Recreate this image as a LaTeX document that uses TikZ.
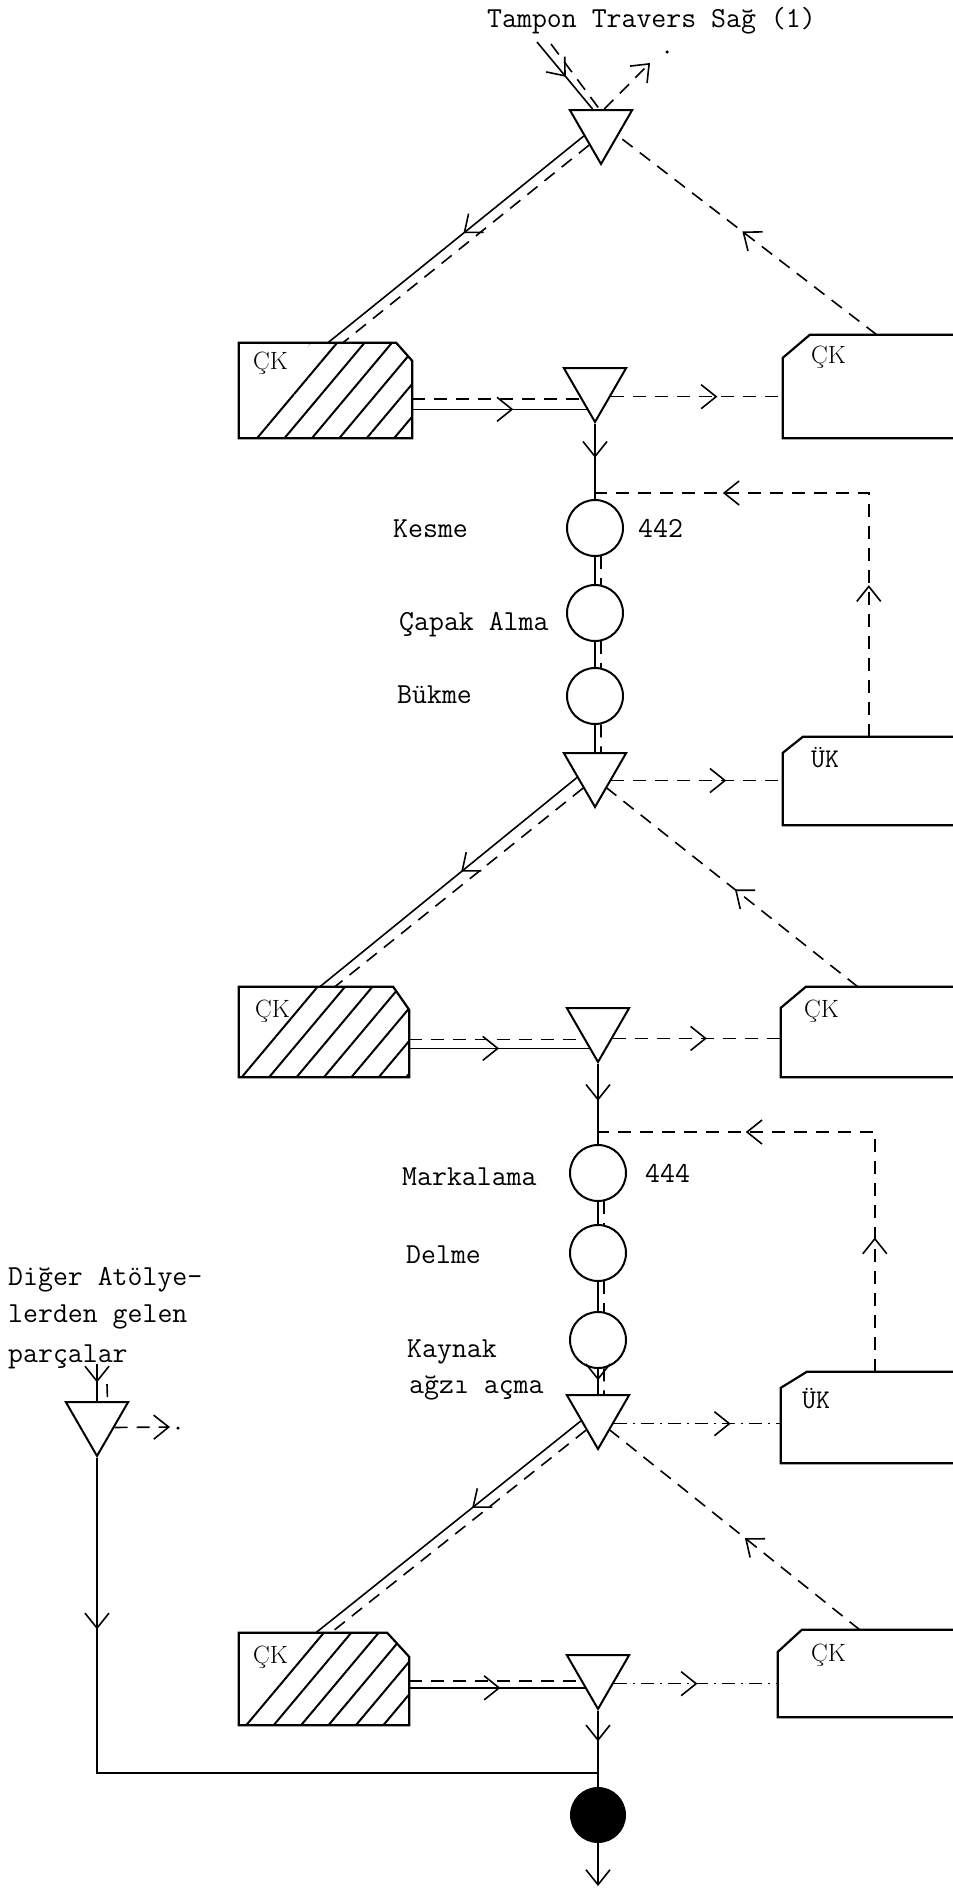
\documentclass[tikz,border=0pt]{standalone}
\usepackage{fontspec}
\usepackage{tikz}
\usetikzlibrary{positioning, shapes.geometric, arrows.meta, decorations.markings, patterns.meta}

\newcommand{\twfont}{\ttfamily\fontsize{29}{38}\selectfont}
\newcommand{\ckfont}{\rmfamily\fontsize{25}{30}\selectfont}
\newcommand{\ukfont}{\ttfamily\fontsize{27}{32}\selectfont}

\tikzset{
  tri/.style={draw, regular polygon, regular polygon sides=3, shape border rotate=180,
    minimum size=72pt, inner sep=0pt, line width=2pt},
  op/.style={draw, circle, minimum size=56pt, inner sep=0pt, line width=2pt},
  stock/.style={circle, fill=black, minimum size=56pt, inner sep=0pt},
  box/.style={inner sep=0pt},
  boxline/.style={line width=2.2pt, line join=miter},
  hatch/.style={pattern={Lines[angle=50, distance=21pt, line width=2pt]}},
  lbl/.style={font=\twfont, inner sep=0pt, anchor=base west},
  cklbl/.style={font=\ckfont, inner sep=0pt, anchor=base west},
  uklbl/.style={font=\ukfont, inner sep=0pt, anchor=base west},
  dot/.style={circle, fill=black, minimum size=3.5pt, inner sep=0pt},
  matl/.style={line width=1.6pt},
  info/.style={line width=1.6pt, dash pattern=on 13pt off 9pt},
  infodd/.style={line width=1.6pt, dash pattern=on 13pt off 6pt on 2pt off 6pt},
  midarrow/.style={postaction={decorate, decoration={markings,
    mark=at position #1 with {\arrow{>}}}}},
  twoarrows/.style 2 args={postaction={decorate, decoration={markings,
    mark=at position #1 with {\arrow{>}}, mark=at position #2 with {\arrow{>}}}}}
}

\begin{document}
\begin{tikzpicture}[x=1pt, y=-1pt, >={Straight Barb[length=15pt, width=24pt]}]
  \useasboundingbox (0,0) rectangle (953,1888);

  % incoming parts
  \node[lbl] (title) at (487,27) {Tampon Travers Sağ (1)};
  \node[tri] (t1) at (601,128) {};
  \coordinate (in1) at (537,42);
  \coordinate (in2) at (551,44);
  \coordinate (out1) at (650,63);
  \node[dot] (dot1) at (667,52) {};
  \draw[matl, midarrow=0.52] (in1) -- (t1.114);
  \draw[info] (in2) -- (t1.95);
  \draw[info, ->] (t1.80) -- (out1);

  % first buffer stocks
  \node[box, minimum width=173pt, minimum height=95pt] (ck1) at (325.5,390.5) {};
  \path[hatch] (ck1.south west) -- ([xshift=72pt]ck1.north west) -- ([xshift=-16pt]ck1.north east)
    -- ([yshift=-18pt]ck1.north east) -- (ck1.south east) -- cycle;
  \draw[boxline] (ck1.south west) -- (ck1.north west) -- ([xshift=-16pt]ck1.north east)
    -- ([yshift=-18pt]ck1.north east) -- (ck1.south east) -- cycle;
  \node[cklbl] (ck1l) at (253,369) {ÇK};
  \node[box, minimum width=170pt, minimum height=103pt] (ck2) at (868,386.5) {};
  \draw[boxline] (ck2.north east) -- ([xshift=27pt]ck2.north west) -- ([yshift=-23pt]ck2.north west)
    -- (ck2.south west) -- (ck2.south east);
  \node[cklbl] (ck2l) at (811,363) {ÇK};
  \node[tri] (t2) at (595,386) {};
  \draw[matl, midarrow=0.47] (t1.205) -- ([xshift=89pt]ck1.north west);
  \draw[info] (t1.235) -- ([xshift=104pt]ck1.north west);
  \draw[info, midarrow=0.52] ([xshift=94pt]ck2.north west) -- (t1.-25);
  \draw[matl, midarrow=0.58] (t2.250 -| ck1.east) -- (t2.250);
  \draw[info] (t2.221 -| ck1.east) -- (t2.221);
  \draw[info, midarrow=0.62] (t2.326) -- (t2.326 -| ck2.west);

  % operations 442
  \node[op] (c1) at (595,528) {};
  \node[op] (c2) at (595,613) {};
  \node[op] (c3) at (595,696) {};
  \node[lbl] (kesme) at (393,537) {Kesme};
  \node[lbl] (capak) at (399,630) {Çapak Alma};
  \node[lbl] (bukme) at (397,703) {Bükme};
  \node[font=\twfont, inner sep=0pt, right=14pt of c1] (n442) {442};
  \coordinate (j1) at (595,493);
  \draw[matl, midarrow=0.45] (t2.south) -- (c1.north);
  \draw[matl] (c1.south) -- (c2.north);
  \draw[info] (c1.-78) -- (c2.78);
  \draw[matl] (c2.south) -- (c3.north);
  \draw[info] (c2.-78) -- (c3.78);

  \node[tri] (t3) at (595,771) {};
  \draw[matl] (c3.south) -- (t3.north);
  \draw[info] (c3.-78) -- ([xshift=6pt]t3.north);
  \node[box, minimum width=170pt, minimum height=88pt] (uk1) at (868,781) {};
  \draw[boxline] (uk1.north east) -- ([xshift=20pt]uk1.north west) -- ([yshift=-16pt]uk1.north west)
    -- (uk1.south west) -- (uk1.south east);
  \node[uklbl] (uk1l) at (811,767) {ÜK};
  \draw[info, midarrow=0.67] (t3.-30) -- (t3.-30 -| uk1.west);
  \draw[info, twoarrows={0.293}{0.753}] ([xshift=86pt]uk1.north west) |- (j1);

  % second buffer stocks
  \node[box, minimum width=170pt, minimum height=90pt] (ck3) at (324,1032) {};
  \path[hatch] (ck3.south west) -- ([xshift=70pt]ck3.north west) -- ([xshift=-16pt]ck3.north east)
    -- ([yshift=-23pt]ck3.north east) -- (ck3.south east) -- cycle;
  \draw[boxline] (ck3.south west) -- (ck3.north west) -- ([xshift=-16pt]ck3.north east)
    -- ([yshift=-23pt]ck3.north east) -- (ck3.south east) -- cycle;
  \node[cklbl] (ck3l) at (255,1017) {ÇK};
  \node[box, minimum width=172pt, minimum height=90pt] (ck4) at (867,1032) {};
  \draw[boxline] (ck4.north east) -- ([xshift=25pt]ck4.north west) -- ([yshift=-21pt]ck4.north west)
    -- (ck4.south west) -- (ck4.south east);
  \node[cklbl] (ck4l) at (804,1017) {ÇK};
  \node[tri] (t4) at (598,1026) {};
  \draw[matl, midarrow=0.45] (t3.200) -- ([xshift=81pt]ck3.north west);
  \draw[info] (t3.235) -- ([xshift=96pt]ck3.north west);
  \draw[info, midarrow=0.49] ([xshift=77pt]ck4.north west) -- (t3.-55);
  \draw[matl, midarrow=0.5] (t4.248 -| ck3.east) -- (t4.248);
  \draw[info] (t4.224 -| ck3.east) -- (t4.224);
  \draw[info, midarrow=0.56] (t4.-40) -- (t4.-40 -| ck4.west);

  % operations 444
  \node[op] (c4) at (598,1173) {};
  \node[op] (c5) at (598,1253) {};
  \node[op] (c6) at (598,1340) {};
  \node[lbl] (markalama) at (402,1185) {Markalama};
  \node[lbl] (delme) at (406,1263) {Delme};
  \node[lbl] (kaynak) at (407,1357) {Kaynak};
  \node[lbl] (agzi) at (409,1393) {ağzı açma};
  \node[font=\twfont, inner sep=0pt, right=18pt of c4] (n444) {444};
  \coordinate (j2) at (598,1132);
  \draw[matl, midarrow=0.46] (t4.south) -- (c4.north);
  \draw[matl] (c4.south) -- (c5.north);
  \draw[info] (c4.-78) -- (c5.78);
  \draw[matl] (c5.south) -- (c6.north);
  \draw[info] (c5.-78) -- (c6.78);

  \node[tri] (t5) at (598,1413) {};
  \draw[matl, midarrow=0.45] (c6.south) -- (t5.north);
  \draw[info] (c6.-78) -- ([xshift=6pt]t5.north);
  \node[box, minimum width=172pt, minimum height=91pt] (uk2) at (867,1417.5) {};
  \draw[boxline] (uk2.north east) -- ([xshift=26pt]uk2.north west) -- ([yshift=-16pt]uk2.north west)
    -- (uk2.south west) -- (uk2.south east);
  \node[uklbl] (uk2l) at (802,1408) {ÜK};
  \draw[infodd, midarrow=0.7] (t5.-34) -- (t5.-34 -| uk2.west);
  \draw[info, twoarrows={0.26}{0.714}] ([xshift=94pt]uk2.north west) |- (j2);

  % third buffer stocks
  \node[box, minimum width=170pt, minimum height=92pt] (ck5) at (324,1679) {};
  \path[hatch] (ck5.south west) -- ([xshift=72pt]ck5.north west) -- ([xshift=-22pt]ck5.north east)
    -- ([yshift=-24pt]ck5.north east) -- (ck5.south east) -- cycle;
  \draw[boxline] (ck5.south west) -- (ck5.north west) -- ([xshift=-22pt]ck5.north east)
    -- ([yshift=-24pt]ck5.north east) -- (ck5.south east) -- cycle;
  \node[cklbl] (ck5l) at (253,1663) {ÇK};
  \node[box, minimum width=175pt, minimum height=87pt] (ck6) at (865.5,1673.5) {};
  \draw[boxline] (ck6.north east) -- ([xshift=24pt]ck6.north west) -- ([yshift=-22pt]ck6.north west)
    -- (ck6.south west) -- (ck6.south east);
  \node[cklbl] (ck6l) at (811,1661) {ÇK};
  \node[tri] (t6) at (598,1673) {};
  \draw[matl, midarrow=0.41] (t5.205) -- ([xshift=77pt]ck5.north west);
  \draw[info] (t5.235) -- ([xshift=92pt]ck5.north west);
  \draw[info, midarrow=0.46] ([xshift=82pt]ck6.north west) -- (t5.-55);
  \draw[matl, midarrow=0.52] (t6.228 -| ck5.east) -- (t6.228);
  \draw[info] (t6.205 -| ck5.east) -- (t6.205);
  \draw[infodd, midarrow=0.51] (t6.-34) -- (t6.-34 -| ck6.west);

  % final stock
  \node[stock] (blk) at (598,1815) {};
  \coordinate (outb) at (598,1886);
  \draw[matl, midarrow=0.4] (t6.south) -- (blk.north);
  \draw[matl, ->] (blk.south) -- (outb);

  % parts from other workshops
  \node[lbl] (dig1) at (8,1285) {Diğer Atölye-};
  \node[lbl] (dig2) at (8,1322) {lerden gelen};
  \node[lbl] (dig3) at (8,1362) {parçalar};
  \node[tri] (tl) at (97,1420) {};
  \coordinate (inl1) at (97,1364);
  \coordinate (inl2) at (107,1384);
  \coordinate (outl) at (170,1427);
  \node[dot] (dot2) at (178,1428) {};
  \coordinate (j3) at (598,1773);
  \draw[matl, midarrow=0.5] (inl1) -- (tl.north);
  \draw[info] (inl2) -- (tl.61);
  \draw[info, ->] (tl.-23) -- (outl);
  \draw[matl, midarrow=0.21] (tl.south) |- (j3);
\end{tikzpicture}
\end{document}
